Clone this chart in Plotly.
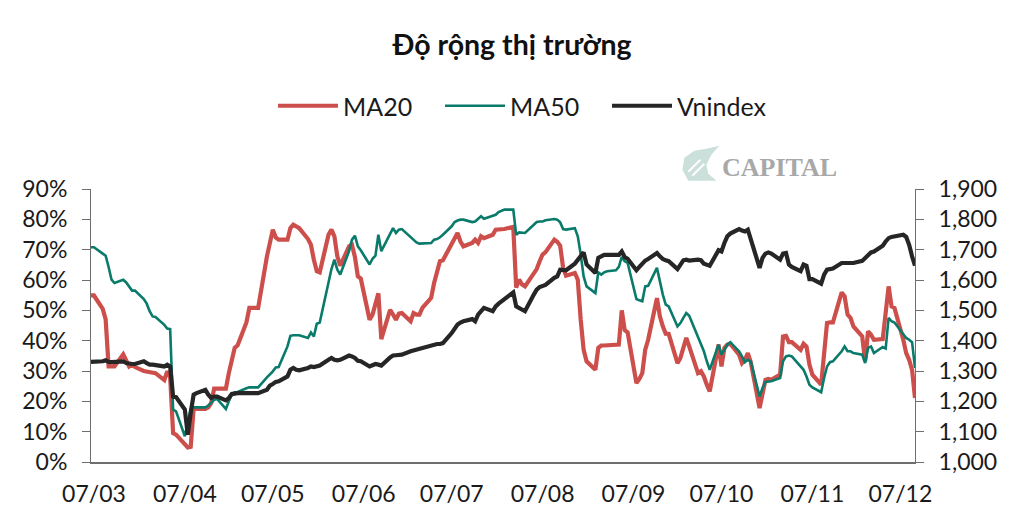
import pandas as pd
import plotly.graph_objects as go

# ---------------- data ----------------
dates = pd.bdate_range("2025-03-06", "2025-12-12")  # trading-day dates (202)

ma20 = [
    54.9, 54.9,
    50.5, 47.0, 31.5, 31.5, 31.5,
    35.5, 33.7, 31.5, 32.1, 31.3,
    30.0, 29.9, 29.6, 29.6, 29.3,
    27.0, 29.9, 28.0, 9.5, 9.0,
    6.0, 4.8, 5.0, 17.5, 17.5,
    17.5, 18.0, 19.5, 24.2, 24.2,
    24.2, 29.3, 33.2, 37.6, 38.5,
    46.0, 50.8, 50.8, 50.8, 50.8,
    67.8, 72.0, 76.6, 74.0, 73.3,
    73.3, 77.1, 78.2, 77.7, 77.1,
    73.5, 71.6, 66.7, 62.9, 62.5,
    74.9, 76.6, 74.4, 67.8, 64.7,
    71.1, 71.6, 67.6, 61.2, 60.5,
    46.9, 48.6, 52.4, 55.6, 40.5,
    50.2, 48.6, 46.9, 48.9, 49.1,
    46.4, 49.1, 48.6, 48.6, 50.8,
    54.1, 59.0, 62.3, 66.2, 66.5,
    72.2, 73.8, 75.5, 72.7, 71.1,
    72.2, 73.3, 72.2, 74.4, 73.8,
    74.9, 76.6, 76.6, 76.6, 76.8,
    77.5, 57.5, 60.1, 58.5, 57.9,
    62.3, 63.6, 66.2, 68.4, 69.2,
    73.3, 72.6, 71.3, 64.0, 61.4,
    62.3, 60.1, 46.9, 37.0, 33.2,
    30.4, 37.6, 38.4, 38.4, 38.4,
    38.5, 38.7, 50.0, 43.5, 42.7,
    26.0, 27.4, 29.3, 37.0, 40.3,
    54.0, 48.0, 44.7, 42.3, 42.2,
    32.6, 34.3, 37.6, 40.9, 38.1,
    29.3, 29.9, 28.2, 25.5, 23.3,
    38.7, 31.5, 37.6, 38.7, 39.0,
    35.4, 32.6, 33.7, 35.9, 32.9,
    17.8, 23.3, 27.1, 27.4, 27.1,
    28.8, 41.4, 41.6, 39.5, 39.5,
    37.0, 39.0, 38.1, 32.1, 28.8,
    25.5, 34.8, 45.8, 46.0, 46.0,
    55.9, 54.6, 48.6, 47.5, 44.7,
    41.4, 33.2, 43.1, 42.0, 40.3,
    40.5, 48.0, 57.9, 51.3, 50.8,
    40.3, 35.9, 33.7, 30.4, 21.1,
]

ma50 = [
    70.8, 70.8,
    68.7, 68.0, 64.3, 60.1, 59.0,
    60.1, 59.2, 57.7, 56.5, 56.5,
    53.7, 52.2, 49.7, 48.0, 47.8,
    45.2, 44.0, 43.8, 17.3, 16.7,
    8.5, 12.9, 17.5, 18.0, 18.0,
    18.0, 18.6, 19.7, 20.5, 20.8,
    17.5, 20.0, 22.2, 23.0, 23.1,
    24.3, 24.6, 24.6, 24.6, 24.6,
    27.9, 28.8, 29.9, 31.2, 31.3,
    38.1, 41.6, 41.8, 41.8, 41.8,
    40.9, 42.7, 41.4, 45.6, 46.0,
    60.1, 63.6, 66.7, 63.4, 61.8,
    69.5, 73.3, 74.6, 71.1, 69.8,
    65.1, 67.0, 68.0, 74.9, 69.5,
    74.9, 77.1, 75.5, 76.6, 76.8,
    74.2, 73.3, 72.4, 72.0, 72.0,
    72.2, 73.3, 73.5, 74.1, 74.9,
    77.7, 79.1, 79.6, 79.9, 79.9,
    79.1, 79.3, 80.1, 81.0, 80.2,
    81.0, 81.5, 82.4, 82.9, 83.2,
    83.2, 74.9, 75.7, 75.5, 75.5,
    78.2, 79.1, 79.3, 79.3, 79.7,
    80.1, 79.9, 79.0, 76.8, 76.6,
    77.1, 74.4, 68.4, 61.2, 57.9,
    55.7, 62.5, 61.8, 62.5, 62.9,
    63.2, 64.3, 67.6, 66.2, 65.6,
    53.7, 53.3, 53.0, 57.9, 58.1,
    64.0, 59.0, 55.2, 51.9, 51.3,
    44.7, 45.8, 47.5, 49.1, 48.2,
    41.4, 39.2, 36.5, 33.2, 30.4,
    38.7, 35.4, 37.0, 38.7, 39.5,
    36.5, 34.8, 32.9, 33.7, 33.2,
    21.6, 24.4, 26.4, 26.6, 26.6,
    27.7, 33.2, 34.8, 35.1, 34.8,
    31.3, 30.4, 28.2, 25.5, 24.6,
    23.0, 27.7, 31.5, 32.9, 33.2,
    36.5, 38.1, 36.5, 36.5, 35.9,
    35.4, 32.6, 37.6, 38.1, 35.9,
    37.9, 37.4, 47.5, 46.4, 46.0,
    42.0, 40.9, 40.3, 39.5, 31.0,
]

vnindex = [
    1330, 1330,
    1332, 1335, 1330, 1329, 1329,
    1332, 1326, 1323, 1323, 1323,
    1332, 1326, 1321, 1321, 1320,
    1315, 1321, 1315, 1216, 1214,
    1173, 1090, 1162, 1222, 1227,
    1238, 1222, 1211, 1216, 1216,
    1203, 1211, 1224, 1227, 1227,
    1227, 1227, 1227, 1227, 1227,
    1238, 1252, 1257, 1264, 1266,
    1282, 1304, 1310, 1304, 1302,
    1310, 1315, 1313, 1315, 1318,
    1337, 1343, 1337, 1335, 1337,
    1351, 1348, 1343, 1334, 1332,
    1315, 1319, 1323, 1321, 1318,
    1345, 1351, 1352, 1354, 1354,
    1365, 1368, 1370, 1374, 1376,
    1385, 1387, 1389, 1389, 1392,
    1425, 1440, 1453, 1460, 1464,
    1471, 1464, 1486, 1499, 1508,
    1497, 1513, 1522, 1530, 1535,
    1559, 1513, 1508, 1500, 1497,
    1552, 1568, 1577, 1581, 1584,
    1607, 1612, 1634, 1632, 1632,
    1654, 1667, 1680, 1691, 1651,
    1623, 1673, 1680, 1683, 1683,
    1683, 1683, 1694, 1676, 1670,
    1632, 1643, 1656, 1664, 1669,
    1689, 1678, 1669, 1665, 1662,
    1636, 1654, 1665, 1667, 1664,
    1667, 1665, 1654, 1649, 1647,
    1698, 1694, 1722, 1744, 1753,
    1768, 1763, 1760, 1766, 1735,
    1640, 1673, 1687, 1691, 1687,
    1667, 1687, 1689, 1651, 1643,
    1629, 1651, 1647, 1603, 1603,
    1588, 1618, 1634, 1636, 1638,
    1656, 1656, 1654, 1656, 1656,
    1663, 1673, 1683, 1691, 1694,
    1713, 1727, 1738, 1742, 1744,
    1749, 1742, 1716, 1678, 1647,
]

tick_dates = ["2025-03-07", "2025-04-07", "2025-05-07", "2025-06-07", "2025-07-07",
              "2025-08-07", "2025-09-07", "2025-10-07", "2025-11-07", "2025-12-07"]
tick_labels = ["07/03", "07/04", "07/05", "07/06", "07/07",
               "07/08", "07/09", "07/10", "07/11", "07/12"]

# ---------------- figure ----------------
W, H = 1024, 528
L, R, T, B = 90.5, 1024 - 914.7, 189.3, 528 - 462.3
FONT = "Lato"
AXIS_COL = "#6e6e6e"

fig = go.Figure()
fig.add_trace(go.Scatter(x=dates, y=ma20, name="MA20", mode="lines",
                         line=dict(color="#CC4F4B", width=4.2)))
fig.add_trace(go.Scatter(x=dates, y=ma50, name="MA50", mode="lines",
                         line=dict(color="#0A7B6A", width=2.6)))
fig.add_trace(go.Scatter(x=dates, y=vnindex, name="Vnindex", mode="lines",
                         line=dict(color="#262626", width=4.2), yaxis="y2"))

def px2paper(x, y):
    return (x - L) / (W - L - R), (H - B - y) / (H - T - B)

# logo icon (decorative)
pts = [(688, 181), (682, 170), (684, 158), (694, 151), (706, 149), (719, 146),
       (711, 155), (706, 165), (708, 174), (716, 181), (704, 181)]
pp = [px2paper(*p) for p in pts]
path = "M " + " L ".join(f"{a:.4f},{b:.4f}" for a, b in pp) + " Z"
fig.add_shape(type="path", path=path, xref="paper", yref="paper",
              fillcolor="#CBDFDB", line=dict(width=0), layer="below")
for (x0, y0, x1, y1) in [(688, 172, 700, 160), (692, 176, 704, 164)]:
    a, b = px2paper(x0, y0)
    c, d = px2paper(x1, y1)
    fig.add_shape(type="line", x0=a, y0=b, x1=c, y1=d, xref="paper", yref="paper",
                  line=dict(color="white", width=2), layer="below")

lx, ly = px2paper(720, 168)
fig.add_annotation(x=lx, y=ly, xref="paper", yref="paper", text="CAPITAL",
                   showarrow=False, xanchor="left", yanchor="middle",
                   font=dict(family="Liberation Serif", size=26, color="#A8A8A8",
                             weight="bold"))

fig.update_layout(
    width=W, height=H,
    margin=dict(l=L, r=R, t=T, b=B, pad=0),
    paper_bgcolor="white", plot_bgcolor="white",
    font=dict(family=FONT, size=23, color="#1a1a1a"),
    title=dict(text="Độ rộng thị trường", x=0.5, xref="container", xanchor="center",
               y=1 - 45 / H, yref="container", yanchor="middle",
               font=dict(family=FONT, size=28.5, color="#111111", weight="bold")),
    legend=dict(orientation="h", x=273 / W, xref="container", xanchor="left",
                y=1 - 106 / H, yref="container", yanchor="middle",
                font=dict(family=FONT, size=25, color="#1a1a1a"),
                itemwidth=60, entrywidth=92, entrywidthmode="pixels",
                traceorder="normal", bgcolor="rgba(0,0,0,0)"),
    xaxis=dict(type="date", range=["2025-03-06", "2025-12-12"],
               tickvals=tick_dates, ticktext=tick_labels,
               showgrid=False, zeroline=False,
               showline=True, linecolor=AXIS_COL, linewidth=1.5,
               ticks="", ticklabelstandoff=11,
               tickfont=dict(family=FONT, size=23, color="#1a1a1a")),
    yaxis=dict(range=[0, 90], dtick=10, ticksuffix="%",
               showgrid=False, zeroline=False,
               showline=True, linecolor=AXIS_COL, linewidth=1,
               ticks="outside", ticklen=8, tickcolor=AXIS_COL, tickwidth=1,
               ticklabelstandoff=10,
               tickfont=dict(family=FONT, size=23, color="#1a1a1a")),
    yaxis2=dict(range=[1000, 1900], dtick=100, tickformat=",d",
                overlaying="y", side="right",
                showgrid=False, zeroline=False,
                showline=True, linecolor=AXIS_COL, linewidth=1,
                ticks="outside", ticklen=8, tickcolor=AXIS_COL, tickwidth=1,
                ticklabelstandoff=10,
                tickfont=dict(family=FONT, size=23, color="#1a1a1a")),
)

fig.write_html("out.html", config={"displayModeBar": False},
               post_script="document.body.style.margin='0';")
